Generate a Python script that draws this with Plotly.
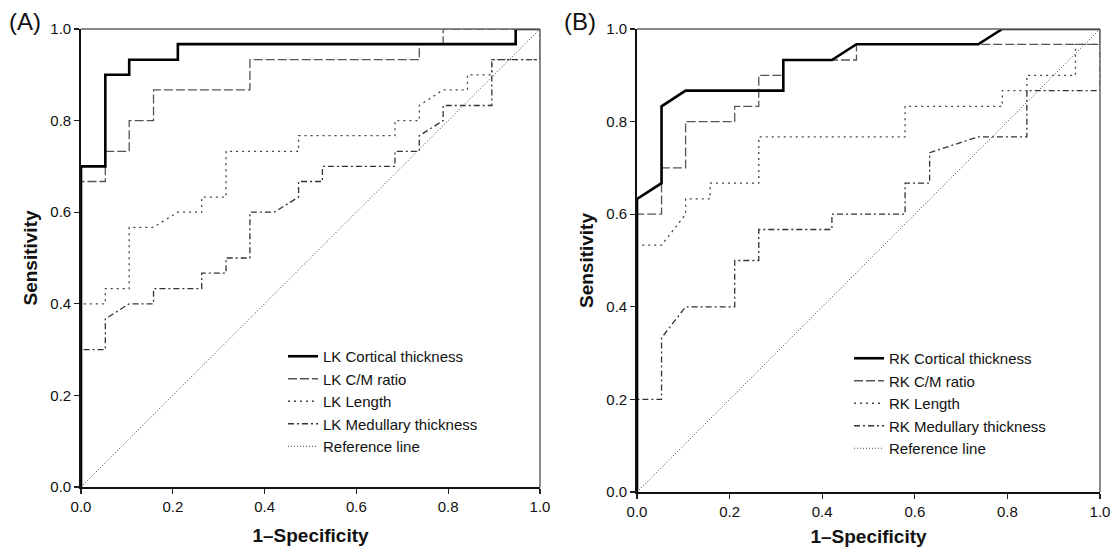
import plotly.graph_objects as go

# ---------------- data (1-Specificity, Sensitivity) ----------------
ticks = [0.0, 0.2, 0.4, 0.6, 0.8, 1.0]

A_cort_x = [0, 0, 0.053, 0.053, 0.105, 0.105, 0.211, 0.211, 0.947, 0.947, 1]
A_cort_y = [0, 0.7, 0.7, 0.9, 0.9, 0.933, 0.933, 0.967, 0.967, 1, 1]

A_cm_x = [0, 0, 0.053, 0.053, 0.105, 0.105, 0.158, 0.158, 0.368, 0.368, 0.737, 0.737, 0.789, 0.789, 1]
A_cm_y = [0, 0.667, 0.667, 0.733, 0.733, 0.8, 0.8, 0.867, 0.867, 0.933, 0.933, 0.967, 0.967, 1, 1]

A_len_x = [0, 0, 0.053, 0.053, 0.105, 0.105, 0.158, 0.211, 0.263, 0.263, 0.316, 0.316, 0.474,
           0.474, 0.684, 0.684, 0.737, 0.737, 0.789, 0.842, 0.842, 0.895, 0.895, 1, 1]
A_len_y = [0, 0.4, 0.4, 0.433, 0.433, 0.567, 0.567, 0.6, 0.6, 0.633, 0.633, 0.733, 0.733,
           0.767, 0.767, 0.8, 0.8, 0.833, 0.867, 0.867, 0.9, 0.9, 0.933, 0.933, 1]

A_med_x = [0, 0, 0.053, 0.053, 0.105, 0.158, 0.158, 0.263, 0.263, 0.316, 0.316, 0.368, 0.368, 0.421,
           0.474, 0.474, 0.526, 0.526, 0.684, 0.684, 0.737, 0.737, 0.789, 0.789, 0.895, 0.895, 1, 1]
A_med_y = [0, 0.3, 0.3, 0.367, 0.4, 0.4, 0.433, 0.433, 0.467, 0.467, 0.5, 0.5, 0.6, 0.6,
           0.633, 0.667, 0.667, 0.7, 0.7, 0.733, 0.733, 0.767, 0.8, 0.833, 0.833, 0.933, 0.933, 1]

B_cort_x = [0, 0, 0.053, 0.053, 0.105, 0.316, 0.316, 0.421, 0.474, 0.737, 0.789, 1]
B_cort_y = [0, 0.633, 0.667, 0.833, 0.867, 0.867, 0.933, 0.933, 0.967, 0.967, 1, 1]

B_cm_x = [0, 0, 0.053, 0.053, 0.105, 0.105, 0.211, 0.211, 0.263, 0.263, 0.316, 0.316, 0.474, 0.474, 1, 1]
B_cm_y = [0, 0.6, 0.6, 0.7, 0.7, 0.8, 0.8, 0.833, 0.833, 0.9, 0.9, 0.933, 0.933, 0.967, 0.967, 1]

B_len_x = [0, 0, 0.053, 0.105, 0.105, 0.158, 0.158, 0.263, 0.263, 0.579, 0.579, 0.789, 0.789,
           0.842, 0.842, 0.947, 0.947, 1, 1]
B_len_y = [0, 0.533, 0.533, 0.6, 0.633, 0.633, 0.667, 0.667, 0.767, 0.767, 0.833, 0.833, 0.867,
           0.867, 0.9, 0.9, 0.967, 0.967, 1]

B_med_x = [0, 0, 0.053, 0.053, 0.105, 0.211, 0.211, 0.263, 0.263, 0.421, 0.421, 0.579, 0.579,
           0.632, 0.632, 0.737, 0.842, 0.842, 1, 1]
B_med_y = [0, 0.2, 0.2, 0.333, 0.4, 0.4, 0.5, 0.5, 0.567, 0.567, 0.6, 0.6, 0.667,
           0.667, 0.733, 0.767, 0.767, 0.867, 0.867, 1]

ref_x = [0, 1]
ref_y = [0, 1]

names_A = ["LK Cortical thickness", "LK C/M ratio", "LK Length", "LK Medullary thickness", "Reference line"]
names_B = ["RK Cortical thickness", "RK C/M ratio", "RK Length", "RK Medullary thickness", "Reference line"]

# ---------------- styles ----------------
styles = [
    dict(color="#000000", width=2.6, dash="solid"),
    dict(color="#555555", width=1.3, dash="9px,3px"),
    dict(color="#444444", width=1.3, dash="2px,4px"),
    dict(color="#333333", width=1.3, dash="6px,3px,2px,3px"),
    dict(color="#444444", width=1.0, dash="1px,2px"),
]

FONT = "Liberation Sans, Arial, sans-serif"

fig = go.Figure()

def add_panel(series, names, xa, ya, legend):
    order = [4, 3, 2, 1, 0]
    for i in order:
        x, y = series[i]
        fig.add_trace(go.Scatter(
            x=x, y=y, mode="lines", name=names[i], line=styles[i],
            xaxis=xa, yaxis=ya, legend=legend, legendrank=i + 1,
            hoverinfo="skip"))

add_panel([(A_cort_x, A_cort_y), (A_cm_x, A_cm_y), (A_len_x, A_len_y),
           (A_med_x, A_med_y), (ref_x, ref_y)], names_A, "x", "y", "legend")
add_panel([(B_cort_x, B_cort_y), (B_cm_x, B_cm_y), (B_len_x, B_len_y),
           (B_med_x, B_med_y), (ref_x, ref_y)], names_B, "x2", "y2", "legend2")

W, H = 1112, 547
domA = [81 / W, 540 / W]
domB = [637 / W, 1100 / W]
domYA = [(H - 487) / H, (H - 29) / H]
domYB = [(H - 492) / H, (H - 29) / H]

axis_common = dict(
    range=[0, 1], tickvals=ticks, tickformat=".1f", ticks="outside", ticklen=5,
    tickwidth=1.2, tickcolor="#222", showline=True, linecolor="#111", linewidth=1.8,
    showgrid=False, zeroline=False, tickfont=dict(family=FONT, size=15, color="#111"),
    fixedrange=True, automargin=False,
)
title_font = dict(family=FONT, size=19, color="#111", weight="bold")

fig.update_layout(
    width=W, height=H,
    margin=dict(l=0, r=0, t=0, b=0, autoexpand=False),
    paper_bgcolor="white", plot_bgcolor="white",
    showlegend=True,
    xaxis=dict(domain=domA, anchor="y", title=dict(text="1\u2013Specificity", font=title_font, standoff=15), **axis_common),
    yaxis=dict(domain=domYA, anchor="x", title=dict(text="Sensitivity", font=title_font, standoff=8), **axis_common),
    xaxis2=dict(domain=domB, anchor="y2", title=dict(text="1\u2013Specificity", font=title_font, standoff=15), **axis_common),
    yaxis2=dict(domain=domYB, anchor="x2", title=dict(text="Sensitivity", font=title_font, standoff=8), **axis_common),
    legend=dict(x=283 / W, y=(H - 340) / H, xanchor="left", yanchor="top",
                font=dict(family=FONT, size=15, color="#111"), bgcolor="rgba(0,0,0,0)",
                itemwidth=30, tracegroupgap=0, traceorder="normal"),
    legend2=dict(x=849 / W, y=(H - 342) / H, xanchor="left", yanchor="top",
                 font=dict(family=FONT, size=15, color="#111"), bgcolor="rgba(0,0,0,0)",
                 itemwidth=30, tracegroupgap=0, traceorder="normal"),
    annotations=[
        dict(text="(A)", x=25 / W, y=(H - 22) / H, xref="paper", yref="paper",
             xanchor="center", yanchor="middle",
             showarrow=False, font=dict(family=FONT, size=24, color="#111")),
        dict(text="(B)", x=580 / W, y=(H - 22) / H, xref="paper", yref="paper",
             xanchor="center", yanchor="middle",
             showarrow=False, font=dict(family=FONT, size=24, color="#111")),
    ],
)

for xa, ya in (("x", "y"), ("x2", "y2")):
    fig.add_shape(type="line", xref=f"{xa} domain", yref=f"{ya} domain", x0=0, x1=1, y0=1, y1=1,
                  line=dict(color="#666", width=1.5), layer="above")
    fig.add_shape(type="line", xref=f"{xa} domain", yref=f"{ya} domain", x0=1, x1=1, y0=0, y1=1,
                  line=dict(color="#666", width=1.5), layer="above")

fig.write_html("out.html", config={"displayModeBar": False, "staticPlot": True},
               post_script="document.body.style.margin='0px';document.body.style.overflow='hidden';")
